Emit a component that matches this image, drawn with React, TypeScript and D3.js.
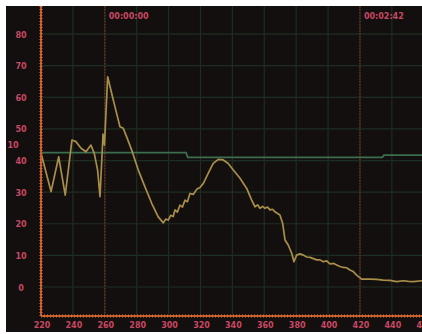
import React from "react";
import * as d3 from "d3";

const xTicks = [220, 240, 260, 280, 300, 320, 340, 360, 380, 400, 420, 440, 460];
const yTicks = [0, 10, 20, 30, 40, 50, 60, 70, 80, 90];
const markers = [260, 420];
const markerLabels = ["00:00:00", "00:02:42"];

const traceX = [220, 226.3, 231.1, 235.2, 239.4, 241.9, 245.1, 248.2, 251.3, 253.4, 255.5, 257.0, 258.9, 259.8, 261.8,
  264.3, 266.4, 269.5, 271.6, 273.7, 276.9, 281.0, 285.2, 289.4, 293.5, 296.7, 298.2, 299.8, 301.3, 302.9, 304.0, 305.5,
  307.1, 308.7, 310.3, 311.8, 313.4, 315.5, 317.6, 319.7, 321.8, 324.9, 328.0, 331.2, 334.3, 337.4, 340.6, 344.8, 349.0,
  352.1, 354.2, 355.8, 357.3, 358.9, 360.4, 362.0, 363.6, 365.2, 366.7, 369.8, 371.5, 373.0, 375.0, 377.2, 378.6, 380.3,
  382.4, 384.5, 386.6, 388.7, 390.8, 392.9, 395.0, 397.0, 399.1, 401.2, 403.3, 405.4, 407.5, 409.5, 411.6, 413.7, 415.8,
  417.9, 421.1, 426.3, 430.4, 434.6, 438.8, 443.0, 447.2, 450.3, 453.4, 458.9];
const traceY = [42.7, 30.5, 41.5, 29.4, 46.8, 46.3, 44.2, 43.1, 45.2, 42.6, 37.3, 28.9, 48.7, 45.2, 66.8,
  61.6, 57.3, 51.0, 50.5, 47.8, 43.6, 37.3, 32.0, 26.8, 22.5, 20.6, 21.8, 21.5, 23.0, 22.6, 24.7, 24.0,
  26.2, 25.6, 27.8, 27.3, 29.9, 29.6, 31.2, 31.8, 33.1, 36.3, 39.4, 40.7, 40.5, 39.4, 37.3, 34.7, 31.5,
  27.8, 25.7, 26.3, 25.2, 25.8, 25.2, 25.6, 24.7, 24.9, 24.1, 23.1, 20.5, 15.2, 13.6, 11.0, 8.3, 10.4,
  10.8, 10.4, 9.8, 9.7, 9.3, 8.9, 8.9, 8.3, 8.6, 7.6, 7.8, 7.3, 6.8, 6.5, 6.4, 5.7, 5.2,
  4.1, 2.8, 2.8, 2.7, 2.5, 2.4, 2.0, 2.3, 2.1, 2.0, 2.3];

const refX = [220, 311, 312, 434, 435, 458.9];
const refY = [42.8, 42.8, 41.3, 41.3, 42.0, 42.0];

const W = 422, H = 334;
const L = 41, R = 422, T = 6, B = 316;

export default function App() {
  const x = d3.scaleLinear().domain([220, 458.9]).range([L, R]);
  const y = d3.scaleLinear().domain([0, 89.2]).range([288, T]);
  const line = d3.line<number>().x((d, i) => x(traceX[i])).y((d) => y(d));
  const refLine = d3.line<number>().x((d, i) => x(refX[i])).y((d) => y(d)).curve(d3.curveLinear);
  const labelColor = "#c84862";
  const font = "'DejaVu Sans', sans-serif";
  return (
    <svg width={W} height={H} style={{ position: "absolute", left: 0, top: 0, background: "#fff" }}>
      <defs>
        <clipPath id="plot"><rect x={L} y={T} width={R - L} height={B - T} /></clipPath>
      </defs>
      <rect x={6} y={6} width={W - 6} height={326} fill="#140f0f" />
      <g>
        {yTicks.map((t) => (
          <line key={"hy" + t} x1={L} x2={R} y1={y(t) - 1} y2={y(t) - 1} stroke="#1c2e22" strokeWidth={1.2} />
        ))}
        {xTicks.map((t) => (
          <line key={"vx" + t} x1={x(t)} x2={x(t)} y1={T} y2={B} stroke="#1c2e22" strokeWidth={1.2} />
        ))}
      </g>
      {markers.map((m) => (
        <line key={"m" + m} x1={x(m)} x2={x(m)} y1={T} y2={B} stroke="#6a2e1e" strokeWidth={1.5} strokeDasharray="1.5,1.5" />
      ))}
      <g clipPath="url(#plot)">
        <path d={refLine(refY) || ""} fill="none" stroke="#3a6e4c" strokeWidth={1.8} />
        <path d={line(traceY) || ""} fill="none" stroke="#a88e48" strokeWidth={1.7} strokeLinejoin="round" />
      </g>
      <line x1={L} x2={L} y1={T} y2={B} stroke="#c25a2a" strokeWidth={2} />
      <line x1={L} x2={L} y1={T} y2={B} stroke="#d06c36" strokeWidth={3} strokeDasharray="1,2" />
      <line x1={L} x2={R} y1={B} y2={B} stroke="#c25a2a" strokeWidth={2} />
      <line x1={L} x2={R} y1={B} y2={B} stroke="#d06c36" strokeWidth={3} strokeDasharray="1,2" />
      {yTicks.map((t) => (
        <text key={"yl" + t} x={21} y={y(t)} fill={labelColor} fontSize={8} fontWeight="bold" fontFamily={font}
          textAnchor="middle" dominantBaseline="central">{t}</text>
      ))}
      <text x={13} y={145} fill={labelColor} fontSize={8} fontWeight="bold" fontFamily={font}
        textAnchor="middle" dominantBaseline="central">10</text>
      {xTicks.map((t) => (
        <text key={"xl" + t} x={x(t) + 1} y={325} fill={labelColor} fontSize={8} fontWeight="bold" fontFamily={font}
          textAnchor="middle" dominantBaseline="central">{t}</text>
      ))}
      {markers.map((m, i) => (
        <text key={"ml" + m} x={x(m) + 4} y={16} fill={labelColor} fontSize={8} fontWeight="bold" fontFamily={font}
          dominantBaseline="central">{markerLabels[i]}</text>
      ))}
      <rect x={0} y={0} width={W} height={6} fill="#fff" />
      <rect x={0} y={0} width={6} height={H} fill="#fff" />
      <rect x={0} y={332} width={W} height={2} fill="#fff" />
    </svg>
  );
}
